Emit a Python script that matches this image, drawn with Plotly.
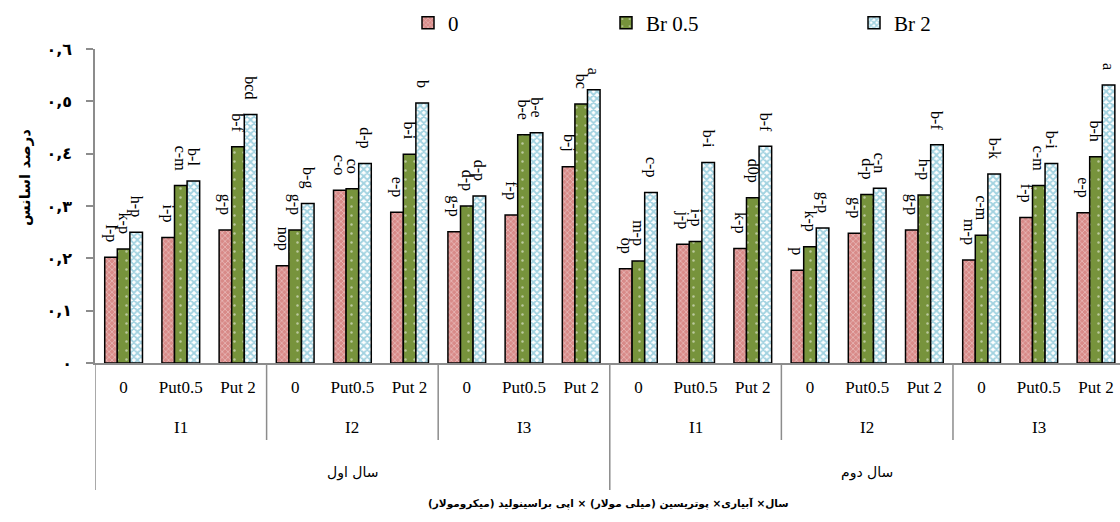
import plotly.graph_objects as go

# categories
years = ["سال اول", "سال دوم"]
irrigation = ["I1", "I2", "I3"]
treatments = ["0", "Put0.5", "Put 2"]

series_names = ["0", "Br 0.5", "Br 2"]

# essential oil percentage, year1 I1..I3 then year2 I1..I3 (0, Put0.5, Put 2 each)
vals_0 = [0.202, 0.240, 0.254, 0.186, 0.330, 0.288, 0.251, 0.283, 0.375,
          0.180, 0.227, 0.219, 0.177, 0.248, 0.254, 0.197, 0.278, 0.287]
vals_br05 = [0.218, 0.339, 0.413, 0.254, 0.333, 0.399, 0.300, 0.436, 0.495,
             0.195, 0.232, 0.316, 0.222, 0.322, 0.321, 0.244, 0.339, 0.394]
vals_br2 = [0.250, 0.348, 0.475, 0.305, 0.381, 0.497, 0.319, 0.440, 0.522,
            0.326, 0.383, 0.414, 0.258, 0.334, 0.417, 0.361, 0.381, 0.531]

# mean comparison letters
lbl_0 = ["l-p", "i-p", "g-p", "nop", "c-o", "e-p", "g-p", "f-p", "b-j",
         "op", "j-p", "k-p", "p", "g-p", "g-p", "m-p", "f-p", "e-p"]
lbl_br05 = ["k-p", "c-m", "b-f", "g-p", "co", "b-i", "d-p", "b-e", "bc",
            "m-p", "i-p", "d0p", "k-p", "d-p", "h-p", "c-m", "c-m", "b-h"]
lbl_br2 = ["h-p", "b-l", "bcd", "b-g", "d-p", "b", "d-p", "b-e", "a",
           "c-p", "b-i", "b-f", "g-p", "c-n", "b-f", "b-k", "b-i", "a"]

y_ticks = [0, 0.1, 0.2, 0.3, 0.4, 0.5, 0.6]
y_ticktext = ["٠", "٠,١", "٠,٢", "٠,٣", "٠,٤", "٠,٥", "٠,٦"]

y_title = "درصد اسانس"
x_title = "سال× آبیاری× پوتریسین (میلی مولار) × اپی براسینولید (میکرومولار)"

SERIF = "Liberation Serif, Times New Roman, serif"
FA = "DejaVu Sans, sans-serif"

n = len(years) * len(irrigation) * len(treatments)
xpos = list(range(n))
xtext = treatments * (len(years) * len(irrigation))

styles = [
    dict(color="#d88a88", pattern=dict(shape="x", fgcolor="white", size=4, solidity=0.3)),
    dict(color="#77933c", pattern=dict(shape=".", fgcolor="white", size=9, solidity=0.06)),
    dict(color="white", pattern=dict(shape="x", fgcolor="#45a6c2", size=5, solidity=0.62)),
]
legend_ids = ["legend", "legend2", "legend3"]

PAD = "\u00a0\u00a0\u00a0"  # keeps the letters a little above the bar tops

fig = go.Figure()
for name, vals, lbls, st, lg in zip(series_names, [vals_0, vals_br05, vals_br2],
                                    [lbl_0, lbl_br05, lbl_br2], styles, legend_ids):
    fig.add_trace(go.Bar(
        x=xpos, y=vals, name=name, legend=lg,
        text=[t + PAD for t in lbls], textposition="outside", textangle=90,
        constraintext="none", cliponaxis=False,
        textfont=dict(family=SERIF, size=16, color="black"),
        marker=dict(color=st["color"], pattern=st["pattern"],
                    line=dict(color="black", width=1.5)),
    ))

# group dividers below the axis
ng = len(treatments)
for i in range(len(years) * len(irrigation) + 1):
    xd = i * ng - 0.5
    depth = -127 if i % len(irrigation) == 0 else -77
    fig.add_shape(type="line", xref="x", yref="paper", ysizemode="pixel", yanchor=0,
                  x0=xd, x1=xd, y0=0, y1=depth, line=dict(color="#8c8c8c", width=1.5))

# irrigation level labels
for k in range(len(years) * len(irrigation)):
    fig.add_annotation(x=k * ng + 1, y=0, xref="x", yref="paper", yshift=-64, yanchor="middle",
                       text=irrigation[k % len(irrigation)], showarrow=False,
                       font=dict(family=SERIF, size=17, color="black"))
# year labels
span = ng * len(irrigation)
for j, yr in enumerate(years):
    fig.add_annotation(x=j * span + (span - 1) / 2, y=0, xref="x", yref="paper", yshift=-109,
                       yanchor="middle", text=yr, showarrow=False,
                       font=dict(family=FA, size=14, color="black"))

fig.add_annotation(x=0.5005, y=-0.449, xref="paper", yref="paper", xanchor="center",
                   yanchor="middle", text="<b>" + x_title + "</b>", showarrow=False,
                   font=dict(family=FA, size=10.5, color="black"))
fig.add_annotation(x=-0.0683, y=0.592, xref="paper", yref="paper", xanchor="center",
                   yanchor="middle", text="<b>" + y_title + "</b>", textangle=-90,
                   showarrow=False, font=dict(family=FA, size=15, color="black"))

leg_x = [408, 606, 854]
leg_common = dict(orientation="h", xref="container", yref="container",
                  y=1 - 23 / 522, yanchor="middle", xanchor="left",
                  font=dict(family=SERIF, size=21, color="black"),
                  bgcolor="rgba(0,0,0,0)", itemwidth=30)

fig.update_layout(
    width=1120, height=522,
    margin=dict(l=95, r=0, t=49, b=159, autoexpand=False),
    plot_bgcolor="white", paper_bgcolor="white",
    barmode="group", bargap=0.34, bargroupgap=0,
    showlegend=True,
    legend=dict(x=leg_x[0] / 1120, **leg_common),
    legend2=dict(x=leg_x[1] / 1120, **leg_common),
    legend3=dict(x=leg_x[2] / 1120, **leg_common),
    xaxis=dict(range=[-0.5, 17.42], tickvals=xpos, ticktext=xtext, ticks="",
               showline=True, linecolor="#8c8c8c", linewidth=1.5, showgrid=False,
               zeroline=False, ticklabelstandoff=8, automargin=False,
               tickfont=dict(family=SERIF, size=17, color="black")),
    yaxis=dict(range=[0, 0.6], tickvals=y_ticks, ticktext=["<b>" + t + "</b>" for t in y_ticktext],
               ticks="outside", ticklen=7, tickcolor="#8c8c8c", tickwidth=1.5,
               showline=True, linecolor="#8c8c8c", linewidth=1.5, showgrid=False,
               zeroline=False, ticklabelstandoff=11, automargin=False,
               tickfont=dict(family=FA, size=16, color="black")),
)

fig.write_html("out.html", config={"displayModeBar": False},
               post_script="document.body.style.margin='0';")
